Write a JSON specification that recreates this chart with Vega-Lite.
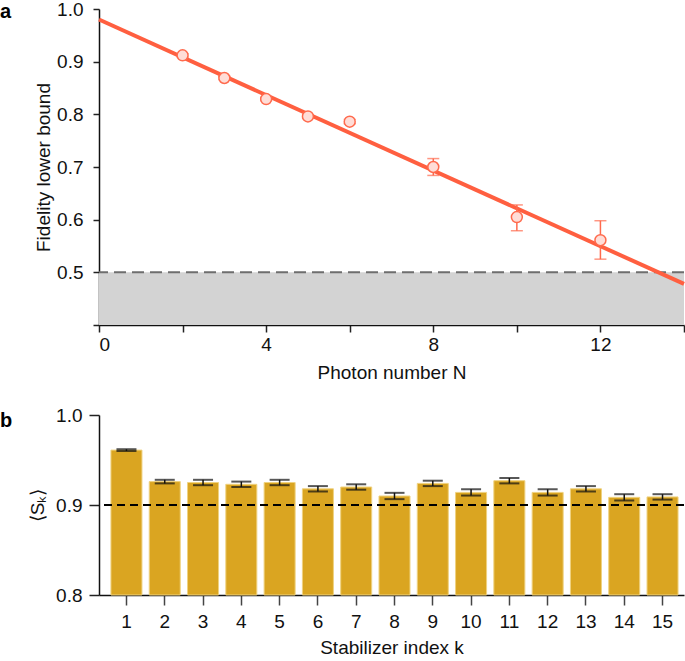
{
  "$schema": "https://vega.github.io/schema/vega-lite/v6.json",
  "background": "white",
  "padding": {"left": 0, "top": 0, "right": 0, "bottom": 0},
  "spacing": 90,
  "bounds": "flush",
  "config": {
    "font": "Liberation Sans",
    "view": {"stroke": null},
    "axis": {
      "labelFont": "Liberation Sans", "titleFont": "Liberation Sans",
      "labelFontSize": 19, "titleFontSize": 19, "titleFontWeight": "normal",
      "labelColor": "#111", "titleColor": "#111",
      "domainColor": "#111", "tickColor": "#222",
      "domainWidth": 1.5, "tickWidth": 1.5, "grid": false
    },
    "title": {"font": "Liberation Sans", "fontSize": 20, "fontWeight": "bold", "anchor": "start", "frame": "group", "color": "#000"}
  },
  "datasets": {
    "fidelity": [
      {"N": 2, "F": 0.912, "lo": 0.909, "hi": 0.915},
      {"N": 3, "F": 0.869, "lo": 0.866, "hi": 0.872},
      {"N": 4, "F": 0.829, "lo": 0.826, "hi": 0.832},
      {"N": 5, "F": 0.796, "lo": 0.793, "hi": 0.799},
      {"N": 6, "F": 0.786, "lo": 0.782, "hi": 0.790},
      {"N": 8, "F": 0.700, "lo": 0.684, "hi": 0.716},
      {"N": 10, "F": 0.605, "lo": 0.579, "hi": 0.628},
      {"N": 12, "F": 0.561, "lo": 0.525, "hi": 0.598}
    ],
    "fit": [
      {"N": 0, "F": 0.980},
      {"N": 14, "F": 0.478}
    ],
    "stab": [
      {"k": 1, "S": 0.961, "lo": 0.960, "hi": 0.962},
      {"k": 2, "S": 0.926, "lo": 0.924, "hi": 0.928},
      {"k": 3, "S": 0.925, "lo": 0.922, "hi": 0.928},
      {"k": 4, "S": 0.923, "lo": 0.920, "hi": 0.926},
      {"k": 5, "S": 0.925, "lo": 0.922, "hi": 0.928},
      {"k": 6, "S": 0.918, "lo": 0.915, "hi": 0.921},
      {"k": 7, "S": 0.920, "lo": 0.917, "hi": 0.923},
      {"k": 8, "S": 0.910, "lo": 0.9065, "hi": 0.9135},
      {"k": 9, "S": 0.924, "lo": 0.921, "hi": 0.927},
      {"k": 10, "S": 0.914, "lo": 0.9105, "hi": 0.9175},
      {"k": 11, "S": 0.927, "lo": 0.924, "hi": 0.930},
      {"k": 12, "S": 0.914, "lo": 0.9105, "hi": 0.9175},
      {"k": 13, "S": 0.918, "lo": 0.915, "hi": 0.921},
      {"k": 14, "S": 0.9085, "lo": 0.905, "hi": 0.912},
      {"k": 15, "S": 0.909, "lo": 0.906, "hi": 0.912}
    ]
  },
  "vconcat": [
    {
      "width": 585,
      "height": 316,
      "title": {"text": "a", "dx": -99, "offset": -38, "baseline": "alphabetic"},
      "layer": [
        {
          "data": {"values": [{}]},
          "mark": {"type": "rect", "color": "#d3d3d3"},
          "encoding": {
            "x": {"datum": 0, "type": "quantitative", "scale": {"domain": [0, 14], "nice": false}},
            "x2": {"datum": 14},
            "y": {"datum": 0.4, "type": "quantitative", "scale": {"domain": [0.4, 1.0], "nice": false}},
            "y2": {"datum": 0.5}
          }
        },
        {
          "data": {"values": [{}]},
          "mark": {"type": "rule", "color": "#6e6e6e", "strokeWidth": 2, "strokeDash": [12, 6]},
          "encoding": {
            "y": {"datum": 0.5, "type": "quantitative"}
          }
        },
        {
          "data": {"name": "fit"},
          "mark": {"type": "line", "color": "#FF5F40", "strokeWidth": 4},
          "encoding": {
            "x": {"field": "N", "type": "quantitative"},
            "y": {"field": "F", "type": "quantitative"}
          }
        },
        {
          "data": {"name": "fidelity"},
          "mark": {"type": "rule", "color": "#FF6A4D", "strokeWidth": 1.5},
          "encoding": {
            "x": {"field": "N", "type": "quantitative"},
            "y": {"field": "lo", "type": "quantitative"},
            "y2": {"field": "hi"}
          }
        },
        {
          "data": {"name": "fidelity"},
          "mark": {"type": "tick", "orient": "horizontal", "color": "#FF6A4D", "size": 12, "thickness": 1.5},
          "encoding": {
            "x": {"field": "N", "type": "quantitative"},
            "y": {"field": "lo", "type": "quantitative"}
          }
        },
        {
          "data": {"name": "fidelity"},
          "mark": {"type": "tick", "orient": "horizontal", "color": "#FF6A4D", "size": 12, "thickness": 1.5},
          "encoding": {
            "x": {"field": "N", "type": "quantitative"},
            "y": {"field": "hi", "type": "quantitative"}
          }
        },
        {
          "data": {"name": "fidelity"},
          "mark": {"type": "point", "shape": "circle", "filled": true, "fill": "#FFDDD7", "stroke": "#FF6A4D", "strokeWidth": 1.5, "size": 120, "opacity": 1},
          "encoding": {
            "x": {
              "field": "N", "type": "quantitative",
              "scale": {"domain": [0, 14], "nice": false},
              "axis": {
                "title": "Photon number N",
                "values": [0, 2, 4, 6, 8, 10, 12, 14],
                "labelExpr": "datum.value % 4 == 0 ? datum.label : ''",
                "tickSize": 7, "labelPadding": 3, "titlePadding": 9
              }
            },
            "y": {
              "field": "F", "type": "quantitative",
              "scale": {"domain": [0.4, 1.0], "nice": false},
              "axis": {
                "title": "Fidelity lower bound",
                "values": [0.4, 0.5, 0.6, 0.7, 0.8, 0.9, 1.0],
                "labelExpr": "datum.value < 0.45 ? '' : format(datum.value, '.1f')",
                "tickSize": 6, "labelPadding": 10, "titlePadding": 3
              }
            }
          }
        }
      ]
    },
    {
      "width": 585,
      "height": 180,
      "title": {"text": "b", "dx": -99, "offset": -41, "baseline": "alphabetic"},
      "layer": [
        {
          "data": {"name": "stab"},
          "mark": {"type": "bar", "color": "#DAA521", "stroke": "#EFD280", "strokeWidth": 1},
          "encoding": {
            "x": {
              "field": "k", "type": "ordinal",
              "scale": {"paddingInner": 0.19, "paddingOuter": 0.234, "align": 0.667},
              "axis": {"title": "Stabilizer index k", "labelAngle": 0, "tickSize": 10, "labelPadding": 7, "titlePadding": 7, "domainColor": "#111", "tickColor": "#444"}
            },
            "y": {
              "field": "S", "type": "quantitative",
              "scale": {"domain": [0.8, 1.0], "nice": false},
              "axis": {"title": "⟨Sₖ⟩", "values": [0.8, 0.9, 1.0], "format": ".1f", "tickSize": 10, "labelPadding": 7, "titlePadding": 8}
            },
            "y2": {"datum": 0.8}
          }
        },
        {
          "data": {"values": [{}]},
          "mark": {"type": "rule", "color": "#000", "strokeWidth": 2, "strokeDash": [8, 5]},
          "encoding": {
            "y": {"datum": 0.9, "type": "quantitative"}
          }
        },
        {
          "data": {"name": "stab"},
          "mark": {"type": "rule", "color": "#111", "strokeWidth": 1.5},
          "encoding": {
            "x": {"field": "k", "type": "ordinal"},
            "y": {"field": "lo", "type": "quantitative"},
            "y2": {"field": "hi"}
          }
        },
        {
          "data": {"name": "stab"},
          "mark": {"type": "tick", "orient": "horizontal", "color": "#111", "size": 20, "thickness": 2},
          "encoding": {
            "x": {"field": "k", "type": "ordinal"},
            "y": {"field": "lo", "type": "quantitative"}
          }
        },
        {
          "data": {"name": "stab"},
          "mark": {"type": "tick", "orient": "horizontal", "color": "#111", "size": 20, "thickness": 2},
          "encoding": {
            "x": {"field": "k", "type": "ordinal"},
            "y": {"field": "hi", "type": "quantitative"}
          }
        }
      ]
    }
  ]
}
